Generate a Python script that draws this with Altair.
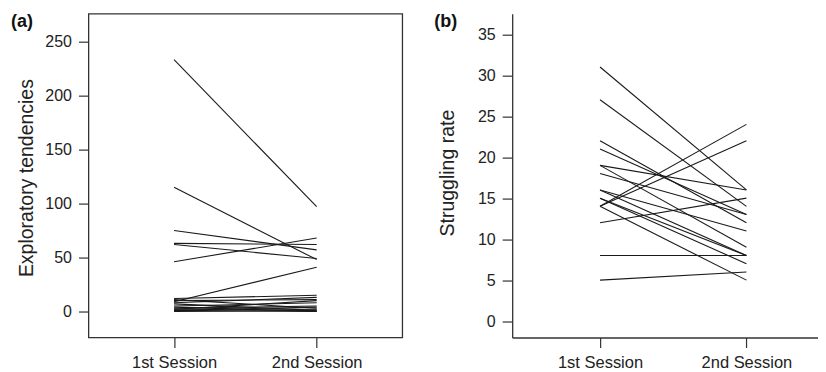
import altair as alt
import pandas as pd

# ---- data ----
sessions = ["1st Session", "2nd Session"]

# (a) Exploratory tendencies, one entry per individual
explore_s1 = [233, 115, 75, 63, 62, 46, 9, 12, 11, 10, 8, 7, 5, 4, 3, 2, 2, 1, 1, 0]
explore_s2 = [97, 48, 57, 62, 49, 68, 41, 15, 3, 11, 13, 1, 8, 0, 5, 2, 10, 0, 4, 1]

# (b) Struggling rate, one entry per individual
struggle_s1 = [31, 27, 22, 21, 19, 19, 18, 16, 16, 15, 14, 14, 14, 15, 12, 8, 5]
struggle_s2 = [16, 14, 12, 13, 16, 9, 13, 11, 8, 8, 24, 22, 5, 7, 15, 8, 6]

explore_ticks = [0, 50, 100, 150, 200, 250]
struggle_ticks = [0, 5, 10, 15, 20, 25, 30, 35]

panel_tags = ["(a)", "(b)"]
y_titles = ["Exploratory tendencies", "Struggling rate"]


def to_long(s1, s2):
    rows = []
    for i, (a, b) in enumerate(zip(s1, s2)):
        rows.append({"id": i, "session": 1, "value": a})
        rows.append({"id": i, "session": 2, "value": b})
    return pd.DataFrame(rows)


FONT = "Liberation Sans"
AXIS_COLOR = "#333333"
TEXT_COLOR = "#222222"
label_expr = f"datum.value == 1 ? '{sessions[0]}' : '{sessions[1]}'"


def panel(df, xdom, ydom, yticks, ytitle, tag, boxed, width, title_x, title_y):
    x = alt.X(
        "session:Q",
        scale=alt.Scale(domain=xdom, nice=False, zero=False),
        axis=alt.Axis(
            values=[1, 2],
            labelExpr=label_expr,
            title=None,
            grid=False,
            domain=not boxed,
            domainColor=AXIS_COLOR,
            domainWidth=1.3,
            tickSize=10,
            tickColor=AXIS_COLOR,
            tickWidth=1.2,
            labelPadding=7,
            labelFont=FONT,
            labelFontSize=16.5,
            labelColor=TEXT_COLOR,
        ),
    )
    y = alt.Y(
        "value:Q",
        scale=alt.Scale(domain=ydom, nice=False, zero=False),
        axis=alt.Axis(
            values=yticks,
            title=ytitle,
            grid=False,
            domain=not boxed,
            domainColor=AXIS_COLOR,
            domainWidth=1.3,
            tickSize=10,
            tickColor=AXIS_COLOR,
            tickWidth=1.2,
            labelPadding=7,
            labelFont=FONT,
            labelFontSize=16,
            labelColor=TEXT_COLOR,
            titleFont=FONT,
            titleFontSize=19.5,
            titleFontWeight="normal",
            titleColor=TEXT_COLOR,
            titleX=title_x,
            titleY=title_y,
            titleAngle=270,
            titleAlign="center",
            titleBaseline="middle",
        ),
    )
    lines = alt.Chart(df).mark_line(color="#1a1a1a", strokeWidth=1.1).encode(
        x=x, y=y, detail="id:N"
    )
    tag_text = alt.Chart(pd.DataFrame({"t": [tag]})).mark_text(
        font=FONT, fontSize=18, fontWeight="bold", color="#111111",
        align="center", baseline="alphabetic"
    ).encode(text="t:N", x=alt.value(-66.5), y=alt.value(13))
    ch = alt.layer(lines, tag_text).properties(width=width, height=324)
    if boxed:
        ch = ch.properties(view=alt.ViewBackground(stroke=AXIS_COLOR, strokeWidth=1.3))
    return ch


panel_a = panel(to_long(explore_s1, explore_s2), [0.4, 2.6], [-24.1, 275.6],
                explore_ticks, y_titles[0], panel_tags[0], True, 314, -62, 164)
panel_b = panel(to_long(struggle_s1, struggle_s2), [0.4, 2.489], [-2, 37.5],
                struggle_ticks, y_titles[1], panel_tags[1], False, 306, -64.7, 159)

chart = alt.hconcat(panel_a, panel_b, spacing=110, bounds="flush").properties(
    padding={"left": 1.5, "top": 3.6, "right": 0, "bottom": 0}
).configure_view(stroke=None)

chart.save("out.html", embed_options={"renderer": "svg", "actions": False})
